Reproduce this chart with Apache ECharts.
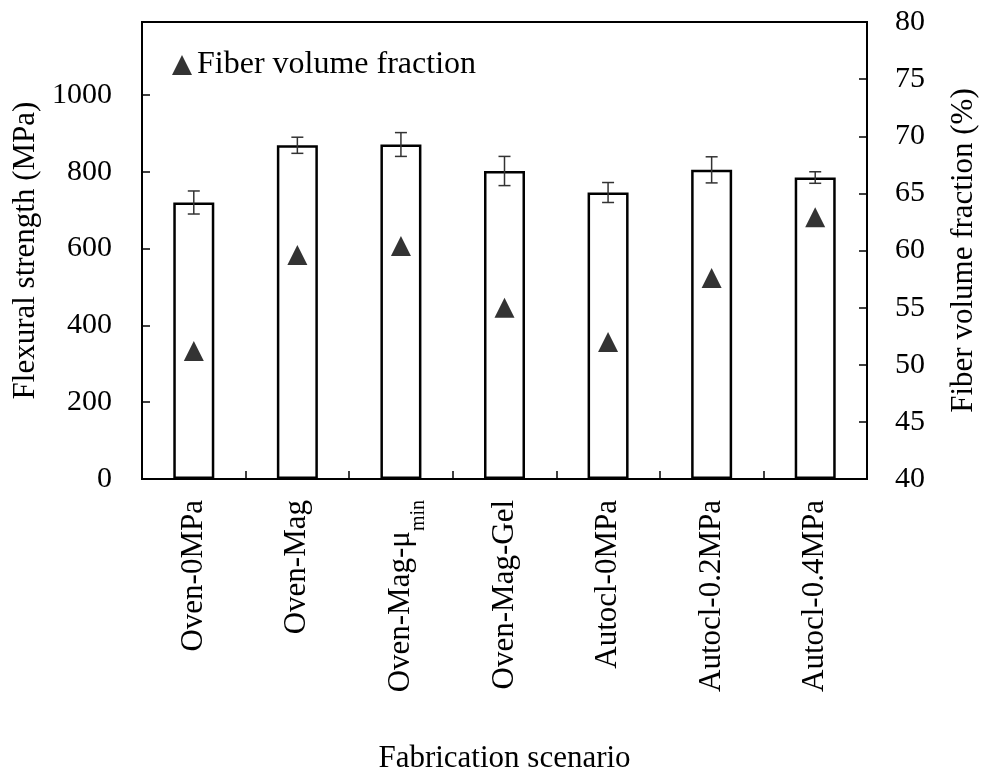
<!DOCTYPE html>
<html>
<head>
<meta charset="utf-8">
<script src="https://cdn.jsdelivr.net/npm/echarts@6/dist/echarts.min.js"></script>
<style>html,body{margin:0;padding:0;background:#fff;}#chart{width:982px;height:778px;}</style>
</head>
<body>
<div id="chart"></div>
<script>
const categories = ['Oven-0MPa', 'Oven-Mag', 'Oven-Mag-μ{sub|min}', 'Oven-Mag-Gel', 'Autocl-0MPa', 'Autocl-0.2MPa', 'Autocl-0.4MPa'];
const strength = [720, 869, 871, 802, 746, 805, 785];
const strengthErr = [30, 21, 31, 38, 26, 34, 15];
const fiberFraction = [51.2, 59.6, 60.4, 55.0, 52.0, 57.6, 62.9];
const leftTicks = [0, 200, 400, 600, 800, 1000];

const FONT = 'Liberation Serif';
const errData = strength.map((v, i) => [i, v - strengthErr[i], v + strengthErr[i]]);

const chart = echarts.init(document.getElementById('chart'));
chart.setOption({
  animation: false,
  backgroundColor: '#fff',
  textStyle: { fontFamily: FONT, color: '#000' },
  grid: { left: 142, right: 115, top: 22, bottom: 299, show: true, borderColor: '#000', borderWidth: 2, containLabel: false, outerBoundsMode: 'none' },
  legend: {
    data: [{ name: 'Fiber volume fraction', icon: 'triangle' }],
    left: 172, top: 49, padding: 0, itemWidth: 20, itemHeight: 20, itemGap: 5,
    textStyle: { fontFamily: FONT, fontSize: 32, color: '#000', padding: [0, 0, 0, 0] }
  },
  xAxis: {
    type: 'category',
    data: categories,
    name: 'Fabrication scenario',
    nameLocation: 'middle',
    nameGap: 264,
    nameTextStyle: { fontFamily: FONT, fontSize: 31, color: '#000' },
    axisLine: { show: true, lineStyle: { color: '#000', width: 2 } },
    axisTick: { show: true, inside: true, length: 8, alignWithLabel: false, lineStyle: { color: '#000', width: 1.5 } },
    axisLabel: {
      rotate: 90, margin: 21, fontFamily: FONT, fontSize: 31, color: '#000', interval: 0,
      rich: { sub: { fontFamily: FONT, fontSize: 20, color: '#000', verticalAlign: 'bottom', padding: [0, 0, -12, 0] } }
    },
    splitLine: { show: false }
  },
  yAxis: [
    {
      type: 'value', min: 0, max: 1190, interval: 200,
      name: 'Flexural strength (MPa)', nameLocation: 'middle', nameGap: 99, nameRotate: 90,
      nameTextStyle: { fontFamily: FONT, fontSize: 31, color: '#000' },
      axisLine: { show: true, lineStyle: { color: '#000', width: 2 } },
      axisTick: { show: true, inside: true, length: 8, lineStyle: { color: '#000', width: 1.5 } },
      axisLabel: { margin: 30, fontFamily: FONT, fontSize: 30, color: '#000',
        formatter: v => leftTicks.indexOf(v) >= 0 ? String(v) : '' },
      splitLine: { show: false }
    },
    {
      type: 'value', min: 40, max: 80, interval: 5, position: 'right',
      name: 'Fiber volume fraction (%)', nameLocation: 'middle', nameGap: 81, nameRotate: 90,
      nameTextStyle: { fontFamily: FONT, fontSize: 31, color: '#000' },
      axisLine: { show: true, lineStyle: { color: '#000', width: 2 } },
      axisTick: { show: true, inside: true, length: 8, lineStyle: { color: '#000', width: 1.5 } },
      axisLabel: { margin: 28, fontFamily: FONT, fontSize: 30, color: '#000' },
      splitLine: { show: false }
    }
  ],
  series: [
    {
      name: 'Flexural strength', type: 'bar', data: strength, barWidth: 41,
      itemStyle: { color: '#fff', borderColor: '#000', borderWidth: 2.5 },
      z: 2
    },
    {
      name: 'err', type: 'custom', data: errData, z: 3,
      renderItem: function (params, api) {
        const x = api.value(0);
        const lo = api.coord([x, api.value(1)]);
        const hi = api.coord([x, api.value(2)]);
        const hw = 6;
        const st = { stroke: '#333', lineWidth: 1.5 };
        return {
          type: 'group',
          children: [
            { type: 'line', shape: { x1: lo[0], y1: lo[1], x2: hi[0], y2: hi[1] }, style: st },
            { type: 'line', shape: { x1: lo[0] - hw, y1: lo[1], x2: lo[0] + hw, y2: lo[1] }, style: st },
            { type: 'line', shape: { x1: hi[0] - hw, y1: hi[1], x2: hi[0] + hw, y2: hi[1] }, style: st }
          ]
        };
      }
    },
    {
      name: 'Fiber volume fraction', type: 'scatter', yAxisIndex: 1, data: fiberFraction,
      symbol: 'triangle', symbolSize: 20, itemStyle: { color: '#000' }, z: 4
    }
  ]
});
</script>
</body>
</html>
